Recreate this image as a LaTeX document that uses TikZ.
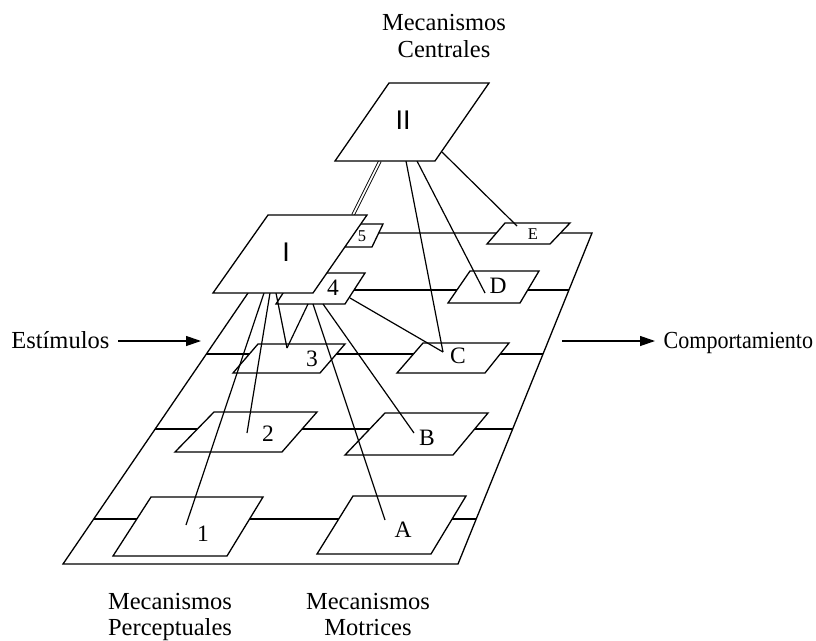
\documentclass[tikz,border=0pt]{standalone}
\usepackage{fontspec}
\setmainfont{Liberation Serif}
\newfontfamily\romfont{Liberation Sans}
\usetikzlibrary{arrows.meta}
\begin{document}
\begin{tikzpicture}[x=1pt,y=-1pt,line width=1.3pt,line join=miter,
  plate/.style={draw,fill=white,line width=1.3pt},
  link/.style={line width=1.2pt},
  dlink/.style={line width=0.9pt,double=white,double distance=1.6pt},
  flow/.style={line width=1.2pt,-{Triangle[length=15pt,width=10pt]}},
  lbl/.style={font=\fontsize{23.5}{26}\selectfont,inner sep=0pt},
  slbl/.style={font=\fontsize{16.5}{19}\selectfont,inner sep=0pt},
  rlbl/.style={font=\romfont\fontsize{27}{30}\selectfont,inner sep=0pt},
  captxt/.style={font=\fontsize{24.5}{28}\selectfont,inner sep=0pt,anchor=base},
]
\useasboundingbox (0,0) rectangle (816,640);

% outer frame (trapezoid) and row lines
\coordinate (FTL) at (289,233);
\coordinate (FTR) at (592,233);
\coordinate (FBR) at (458,564);
\coordinate (FBL) at (63,564);
\draw (FTL) -- (FTR) -- (FBR) -- (FBL) -- cycle;
\coordinate (L1) at (250.1,290); \coordinate (R1) at (568.9,290);
\coordinate (L2) at (206.4,354); \coordinate (R2) at (543.0,354);
\coordinate (L3) at (155.2,429); \coordinate (R3) at (512.6,429);
\coordinate (L4) at (93.7,519);  \coordinate (R4) at (476.2,519);
\draw (L1) -- (R1);
\draw (L2) -- (R2);
\draw (L3) -- (R3);
\draw (L4) -- (R4);

% small plates
\draw[plate] (151,497) -- (263,497) -- (227,556) -- (113,556) -- cycle;
\draw[plate] (214,412) -- (317,412) -- (282,452) -- (175,452) -- cycle;
\draw[plate] (353,496) -- (466,496) -- (431,554) -- (317,554) -- cycle;
\draw[plate] (385,413) -- (488,413) -- (453,455) -- (345,455) -- cycle;
\draw[plate] (258,344) -- (345,344) -- (320,373) -- (233,373) -- cycle;
\draw[plate] (423,343) -- (509,343) -- (485,373) -- (397,373) -- cycle;
\draw[plate] (470,271) -- (539,271) -- (520,303) -- (448,303) -- cycle;
\draw[plate] (505,223) -- (570,223) -- (550,244) -- (487,244) -- cycle;
\draw[plate] (356,224) -- (383,224) -- (372,247) -- (345,247) -- cycle;
\draw[plate] (296,273) -- (365,273) -- (345,304) -- (276,304) -- cycle;

\node[lbl]  (n1) at (203,534) {1};
\node[lbl]  (n2) at (268,434) {2};
\node[lbl]  (nA) at (403,530) {A};
\node[lbl]  (nB) at (427,438) {B};
\node[lbl]  (n3) at (312,359) {3};
\node[lbl]  (nC) at (458,356) {C};
\node[lbl]  (nD) at (498,286) {D};
\node[slbl] (nE) at (533,234) {E};
\node[slbl] (n5) at (362,236) {5};
\node[lbl]  (n4) at (333,288) {4};

% connector end points
\coordinate (s1) at (264,293);
\coordinate (s2) at (270,293);
\coordinate (s3) at (276,293);
\coordinate (f3) at (308,304);
\coordinate (fA) at (313,304);
\coordinate (fB) at (323,304);
\coordinate (fC) at (350,298);
\coordinate (tC) at (406,161);
\coordinate (tD) at (417,161);
\coordinate (tE) at (442,152);
\coordinate (e1) at (186,525);
\coordinate (e2) at (247,433);
\coordinate (e3) at (287,348);
\coordinate (eA) at (385,520);
\coordinate (eB) at (414,433);
\coordinate (eC) at (443,352);
\coordinate (eD) at (485,293);
\coordinate (eE) at (517,226);
\coordinate (dTop) at (380,161);
\coordinate (dBot) at (353,215);

\draw[link] (s1) -- (e1);
\draw[link] (s2) -- (e2);
\draw[link] (s3) -- (e3);
\draw[link] (f3) -- (e3);
\draw[link] (fA) -- (eA);
\draw[link] (fB) -- (eB);
\draw[link] (fC) -- (eC);
\draw[link] (tC) -- (eC);
\draw[link] (tD) -- (eD);
\draw[link] (tE) -- (eE);
\draw[dlink] (dTop) -- (dBot);

% main plates
\draw[plate] (268,215) -- (367,215) -- (313,293) -- (213,293) -- cycle;
\node[rlbl] (nI) at (286,252) {I};
\draw[plate] (389,83) -- (489,83) -- (435,161) -- (335,161) -- cycle;
\node[rlbl] (nII) at (403,120) {II};

% inputs / outputs
\node[captxt,anchor=base east] (est) at (110,348) {Estímulos};
\coordinate (estA) at (118,341);
\coordinate (estB) at (201,341);
\draw[flow] (estA) -- (estB);
\coordinate (comA) at (562,341);
\coordinate (comB) at (655,341);
\draw[flow] (comA) -- (comB);
\node[captxt,anchor=base west] (com) at (663,348) {\scalebox{0.9}[1]{Comportamiento}};

% captions
\node[captxt] (c1) at (444,30) {Mecanismos};
\node[captxt] (c2) at (444,57) {Centrales};
\node[captxt] (p1) at (170,609) {Mecanismos};
\node[captxt] (p2) at (170,635) {Perceptuales};
\node[captxt] (m1) at (368,609) {Mecanismos};
\node[captxt] (m2) at (368,635) {Motrices};
\end{tikzpicture}
\end{document}
